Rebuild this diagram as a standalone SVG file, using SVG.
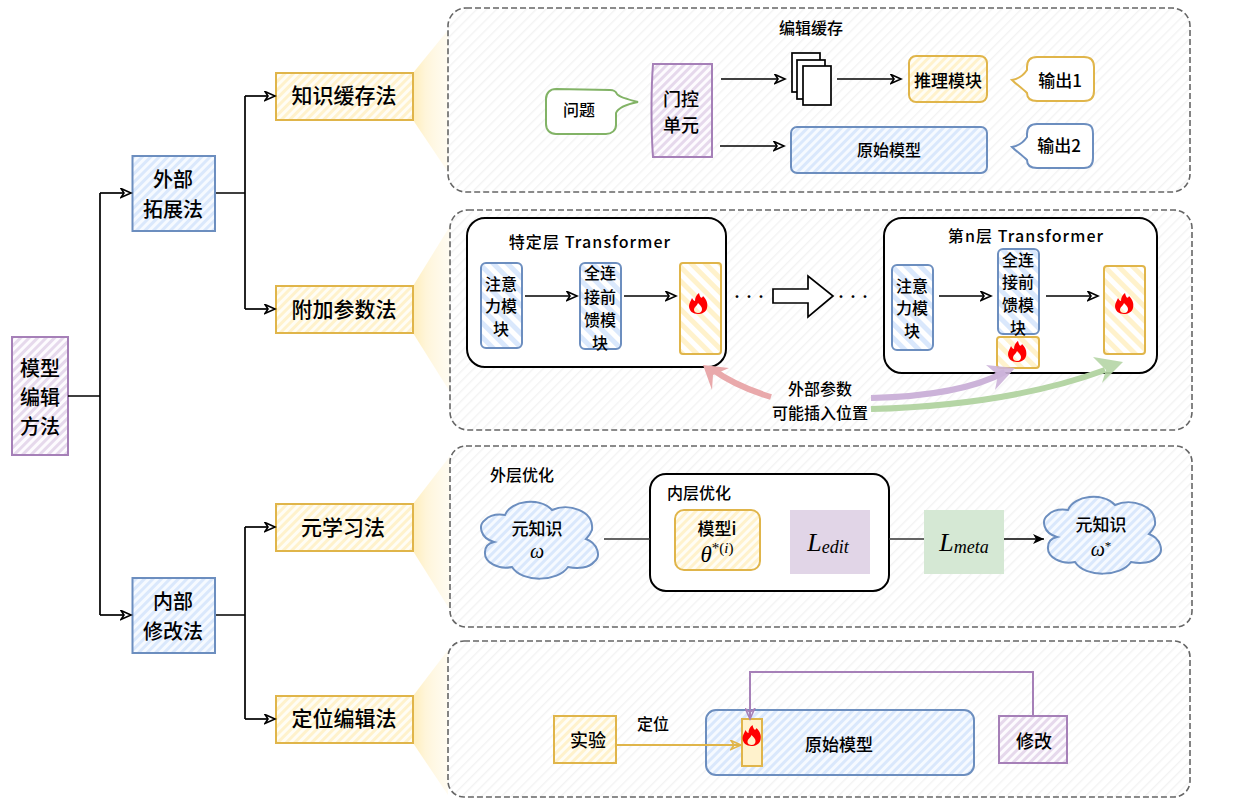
<svg xmlns="http://www.w3.org/2000/svg" width="1236" height="806" viewBox="0 0 1236 806">
<style>
text{font-family:"Noto Sans CJK SC","Noto Sans",sans-serif;font-weight:500;fill:#000;text-anchor:middle;dominant-baseline:central}
.t21{font-size:21px}.t20{font-size:20px}.t18{font-size:18px}.t17{font-size:17px}.t16{font-size:16px}
.title{font-size:16px;letter-spacing:1.1px}
.panel{stroke:#666;stroke-width:1.6;stroke-dasharray:6 3;fill:url(#hGray)}
.blue{stroke:#6c8ebf;stroke-width:2;fill:url(#hBlue)}
.yellow{stroke:#e0b54a;stroke-width:2;fill:url(#hYellow)}
.purple{stroke:#a680b8;stroke-width:2;fill:url(#hPurple)}
.blueW{stroke:#6c8ebf;stroke-width:2;fill:url(#wBlue)}
.yellowW{stroke:#e0b54a;stroke-width:2;fill:url(#wYellow)}
.box{fill:#fff;stroke:#000;stroke-width:2}
.line{fill:none;stroke:#000;stroke-width:1.7}
.arrow{marker-end:url(#open)}
.math{font-family:"Liberation Serif",serif;font-style:italic;font-weight:400}
</style>
<defs>
<pattern id="hGray" width="7" height="7" patternUnits="userSpaceOnUse" patternTransform="rotate(45)"><rect width="7" height="7" fill="#fff"/><rect width="1.400" height="7" fill="#f3f3f3"/></pattern>
<pattern id="hBlue" width="6" height="6" patternUnits="userSpaceOnUse" patternTransform="rotate(45)"><rect width="6" height="6" fill="#f6faff"/><rect width="3" height="6" fill="#dae8fc"/></pattern>
<pattern id="hYellow" width="6" height="6" patternUnits="userSpaceOnUse" patternTransform="rotate(45)"><rect width="6" height="6" fill="#fffdf5"/><rect width="3" height="6" fill="#fff2cc"/></pattern>
<pattern id="hPurple" width="6" height="6" patternUnits="userSpaceOnUse" patternTransform="rotate(45)"><rect width="6" height="6" fill="#fdfbfe"/><rect width="3" height="6" fill="#e6d9ec"/></pattern>
<pattern id="wBlue" width="10" height="10" patternUnits="userSpaceOnUse" patternTransform="rotate(-45)"><rect width="10" height="10" fill="#fff"/><rect width="5" height="10" fill="#dae8fc"/></pattern>
<pattern id="wYellow" width="10" height="10" patternUnits="userSpaceOnUse" patternTransform="rotate(-45)"><rect width="10" height="10" fill="#fff"/><rect width="5" height="10" fill="#fff2cc"/></pattern>
<linearGradient id="fan" x1="0" y1="0" x2="1" y2="0"><stop offset="0" stop-color="#ffeebb"/><stop offset="0.35" stop-color="#fff5d9"/><stop offset="1" stop-color="#fff9e8" stop-opacity="0.6"/></linearGradient>
<marker id="open" markerWidth="13" markerHeight="11" refX="11" refY="5.500" orient="auto" markerUnits="userSpaceOnUse"><path d="M1,1 L11,5.500 L1,10 L4,5.500 Z" fill="#fff" stroke="#000" stroke-width="1.600"/></marker>
<marker id="openY" markerWidth="13" markerHeight="11" refX="11" refY="5.500" orient="auto" markerUnits="userSpaceOnUse"><path d="M1,1 L11,5.500 L1,10 L4,5.500 Z" fill="none" stroke="#e0b54a" stroke-width="1.600"/></marker>
<marker id="openP" markerWidth="13" markerHeight="11" refX="11" refY="5.500" orient="auto" markerUnits="userSpaceOnUse"><path d="M1,1 L11,5.500 L1,10 L4,5.500 Z" fill="none" stroke="#a680b8" stroke-width="1.600"/></marker>
<marker id="block" markerWidth="12" markerHeight="10" refX="11" refY="5" orient="auto" markerUnits="userSpaceOnUse"><path d="M0,0 L11,5 L0,10 L3,5 Z" fill="#000"/></marker>
<path id="flame" fill="#f00" fill-rule="evenodd" d="M1,-11 C2,-6 4,-5 5,-8 C9,-4 10,0 9,4 C8,8 4,10 0,10 C-5,10 -9,7 -9,2 C-9,-1 -7,-3 -6,-6 C-5,-4 -4,-3 -3,-3 C-3,-6 -2,-9 1,-11 Z M0,-1 C-1,2 -4,3 -4,6 C-4,8 -2,9 0,9 C3,9 4,7 4,5 C4,3 2,1 0,-1 Z"/>
<path id="cloud" d="M505,515 C511,500 540,497 552,510 C568,503 594,510 592,530 C590,535 588,537 586,539 C597,543 602,556 594,562 C589,568 578,569 568,567 C558,582 522,583 512,567 C498,570 484,562 485,552 C485,546 490,543 494,542 C480,538 478,525 485,520 C490,515 498,514 505,515 Z"/>
</defs>

<g id="fans">
<polygon points="413,73 448,30 448,172 413,120" fill="url(#fan)"/>
<polygon points="413,286 450,226 450,392 413,333" fill="url(#fan)"/>
<polygon points="413,504 450,456 450,610 413,551" fill="url(#fan)"/>
<polygon points="413,696 448,650 448,795 413,743" fill="url(#fan)"/>
</g>

<g id="panels">
<rect id="panel1" class="panel" x="448" y="8" width="742" height="184" rx="18"/>
<rect id="panel2" class="panel" x="450" y="210" width="742" height="220" rx="18"/>
<rect id="panel3" class="panel" x="450" y="446" width="742" height="181" rx="16"/>
<rect id="panel4" class="panel" x="448" y="641" width="742" height="156" rx="16"/>
</g>

<g id="root"><rect class="purple" x="12" y="337" width="56" height="118"/><text class="t20" x="40" y="367">模型</text><text class="t20" x="40" y="396">编辑</text><text class="t20" x="40" y="425">方法</text></g>
<g id="external"><rect class="blue" x="132.500" y="156" width="82.500" height="75"/><text class="t20" x="173" y="178">外部</text><text class="t20" x="173" y="208">拓展法</text></g>
<g id="internal"><rect class="blue" x="132.500" y="578" width="82.500" height="75"/><text class="t20" x="173" y="600">内部</text><text class="t20" x="173" y="630">修改法</text></g>
<g id="m1"><rect class="yellow" x="276" y="73" width="137" height="47"/><text class="t21" x="344" y="94">知识缓存法</text></g>
<g id="m2"><rect class="yellow" x="276" y="286" width="137" height="47"/><text class="t21" x="344" y="308">附加参数法</text></g>
<g id="m3"><rect class="yellow" x="276" y="504" width="137" height="47"/><text class="t21" x="343" y="526">元学习法</text></g>
<g id="m4"><rect class="yellow" x="276" y="696" width="137" height="47"/><text class="t21" x="344" y="717">定位编辑法</text></g>

<g id="n-title1"><text class="t16" x="811" y="27">编辑缓存</text></g>
<g id="question"><path fill="#fff" stroke="#82b366" stroke-width="2" d="M556,89 L610,90 C615,90 616,92 617,94 C619,97 630,100 638,102 C628,104 618,108 616,113 L616,125 C616,130 612,134 606,134 L556,134 C550,134 546,130 546,124 L546,99 C546,93 550,89 556,89 Z"/><text class="t16" x="579" y="109">问题</text></g>
<g id="gate"><path class="purple" d="M653,64 H712 V157 H653 C651,130 651,90 653,64 Z"/><text class="t18" x="681" y="98">门控</text><text class="t18" x="681" y="124">单元</text></g>
<g id="docs" fill="#fff" stroke="#000" stroke-width="1.700"><rect x="792" y="53" width="28" height="39"/><rect x="797" y="60" width="28" height="39"/><rect x="803" y="66" width="28" height="39"/></g>
<g id="reason"><rect class="yellow" x="909" y="56" width="78" height="46" rx="7"/><text class="t17" x="948" y="79">推理模块</text></g>
<g id="out1"><path d="M1037,57 H1084 C1091,57 1094,60 1094,67 V91 C1094,98 1091,101 1084,101 H1037 C1030,101 1027,98 1027,93 C1022,88 1016,84 1012,80 C1018,79 1023,76 1027,70 V67 C1027,60 1030,57 1037,57 Z" fill="#fff" stroke="#e0b54a" stroke-width="2"/><text class="t17" x="1060" y="79">输出1</text></g>
<g id="orig1"><rect class="blue" x="791" y="127" width="196" height="46" rx="6"/><text class="t16" x="889" y="149">原始模型</text></g>
<g id="out2"><path d="M1037,124 H1084 C1091,124 1093,127 1093,134 V158 C1093,165 1090,168 1084,168 H1037 C1030,168 1027,165 1027,160 C1022,155 1016,151 1012,147 C1018,146 1023,143 1027,137 V134 C1027,127 1030,124 1037,124 Z" fill="#fff" stroke="#6c8ebf" stroke-width="2"/><text class="t17" x="1059" y="144">输出2</text></g>

<g id="tf1"><rect class="box" x="467" y="218" width="259" height="149" rx="18"/><text class="title" x="590" y="241">特定层 Transformer</text></g>
<g id="tf1a"><rect class="blueW" x="481" y="263" width="41" height="85" rx="5"/><text class="t16" x="501" y="283">注意</text><text class="t16" x="501" y="305">力模</text><text class="t16" x="501" y="328">块</text></g>
<g id="tf1b"><rect class="blueW" x="580" y="263" width="41" height="86" rx="5"/><text class="t16" x="600" y="272">全连</text><text class="t16" x="600" y="296">接前</text><text class="t16" x="600" y="319">馈模</text><text class="t16" x="600" y="342">块</text></g>
<g id="tf1c"><rect class="yellowW" x="680" y="263" width="41" height="91" rx="3"/><use href="#flame" x="698" y="304"/></g>
<g id="dots1"><text font-size="12" x="749" y="296">···</text></g>
<g id="bigarrow"><path d="M773,289 H808 V276 L833,296 L808,317 V303 H773 Z" fill="#fff" stroke="#000" stroke-width="1.700"/></g>
<g id="dots2"><text font-size="12" x="853" y="296">···</text></g>
<g id="tf2"><rect class="box" x="884" y="218" width="273" height="155" rx="18"/><text class="title" x="1026" y="235">第n层 Transformer</text></g>
<g id="tf2a"><rect class="blueW" x="892" y="265" width="41" height="85" rx="5"/><text class="t16" x="912" y="285">注意</text><text class="t16" x="912" y="307">力模</text><text class="t16" x="912" y="330">块</text></g>
<g id="tf2b"><rect class="blueW" x="998" y="249" width="41" height="85" rx="5"/><text class="t16" x="1018" y="259">全连</text><text class="t16" x="1018" y="281">接前</text><text class="t16" x="1018" y="304">馈模</text><text class="t16" x="1018" y="327">块</text></g>
<g id="tf2c"><rect class="yellowW" x="997" y="337" width="42" height="31" rx="3"/><use href="#flame" x="1017" y="352"/></g>
<g id="tf2d"><rect class="yellowW" x="1104" y="266" width="41" height="88" rx="3"/><use href="#flame" x="1124" y="304"/></g>

<g id="outer"><text class="t16" x="522" y="474">外层优化</text></g>
<g id="cloud1"><use href="#cloud" fill="url(#hBlue)" stroke="#6c8ebf" stroke-width="2"/><text class="t17" x="537" y="527">元知识</text><text class="math" font-size="20" x="537" y="551">ω</text></g>
<g id="inner"><rect class="box" x="650" y="474" width="239" height="117" rx="16"/><text class="t16" x="699" y="492">内层优化</text></g>
<g id="modeli"><rect class="yellow" x="675" y="510" width="85" height="60" rx="9"/><text class="t17" x="717" y="527">模型i</text><text class="math" font-size="23" x="717" y="554">θ<tspan font-size="15" dy="-6" font-style="normal">*(</tspan><tspan font-size="15">i</tspan><tspan font-size="15" font-style="normal">)</tspan></text></g>
<g id="ledit"><rect x="790" y="510" width="80" height="64" fill="#e1d5e7"/><text class="math" font-size="26" x="828" y="542">L<tspan font-size="18" dy="5">edit</tspan></text></g>
<g id="lmeta"><rect x="924" y="510" width="80" height="64" fill="#d5e8d4"/><text class="math" font-size="26" x="964" y="542">L<tspan font-size="18" dy="5">meta</tspan></text></g>
<g id="cloud2"><use href="#cloud" x="563" y="-5" fill="url(#hBlue)" stroke="#6c8ebf" stroke-width="2"/><text class="t17" x="1101" y="523">元知识</text><text class="math" font-size="20" x="1101" y="549">ω<tspan font-size="13" dy="-4" font-style="normal">*</tspan></text></g>

<g id="exp"><rect class="yellow" x="554" y="716" width="62" height="47"/><text class="t18" x="588" y="739">实验</text></g>
<g id="loc"><text class="t16" x="653" y="723">定位</text></g>
<g id="orig2"><rect class="blue" x="706" y="710" width="268" height="65" rx="10"/><text class="t17" x="839" y="743">原始模型</text></g>
<g id="fire4"><rect x="742" y="719" width="20" height="47" fill="#fff2cc" stroke="#e0b54a" stroke-width="2"/><use href="#flame" x="751.500" y="736"/></g>
<g id="fix"><rect class="purple" x="999" y="716" width="68" height="47"/><text class="t18" x="1034" y="740">修改</text></g>

<g id="hints">
<path d="M771,397 Q735,386 712,369" fill="none" stroke="#e9a9ab" stroke-width="6"/><polygon points="703,365 729,368 713,375 712,390" fill="#e9a9ab"/>
<path d="M871,398 Q960,396 1005,372" fill="none" stroke="#ccb3d9" stroke-width="6"/><polygon points="1015,368 986,365 998,375 995,390" fill="#ccb3d9" fill-opacity="0.9"/>
<path d="M871,409 Q1010,405 1105,370" fill="none" stroke="#b5d5a5" stroke-width="6"/><polygon points="1123,362 1093,357 1106,370 1102,383" fill="#b5d5a5" fill-opacity="0.9"/>
<text class="t16" x="820" y="388">外部参数</text><text class="t16" x="820" y="412">可能插入位置</text>
</g>

<g id="connectors">
<path class="line" d="M68,396 H100 M100,193 V615"/>
<path class="line arrow" d="M100,193 H131"/>
<path class="line arrow" d="M100,615 H131"/>
<path class="line" d="M216,193 H245 M245,96 V309 M216,615 H245 M245,527 V719"/>
<path class="line arrow" d="M245,96 H275"/>
<path class="line arrow" d="M245,309 H275"/>
<path class="line arrow" d="M245,527 H275"/>
<path class="line arrow" d="M245,719 H275"/>
<path class="line arrow" d="M721,79 H785"/>
<path class="line arrow" d="M720,146 H784"/>
<path class="line arrow" d="M837,79 H901"/>
<path class="line arrow" d="M525,296 H577"/>
<path class="line arrow" d="M624,296 H676"/>
<path class="line arrow" d="M939,296 H991"/>
<path class="line arrow" d="M1046,296 H1098"/>
<path fill="none" stroke="#333" stroke-width="1.300" d="M604,539 H650 M889,539 H924"/>
<path fill="none" stroke="#000" stroke-width="1.300" marker-end="url(#block)" d="M1004,539 H1044"/>
<path fill="none" stroke="#e0b54a" stroke-width="2" marker-end="url(#openY)" d="M616,745 H741"/>
<path fill="none" stroke="#a680b8" stroke-width="2" marker-end="url(#openP)" d="M1033,716 V672 H750 V719"/>
</g>
</svg>
